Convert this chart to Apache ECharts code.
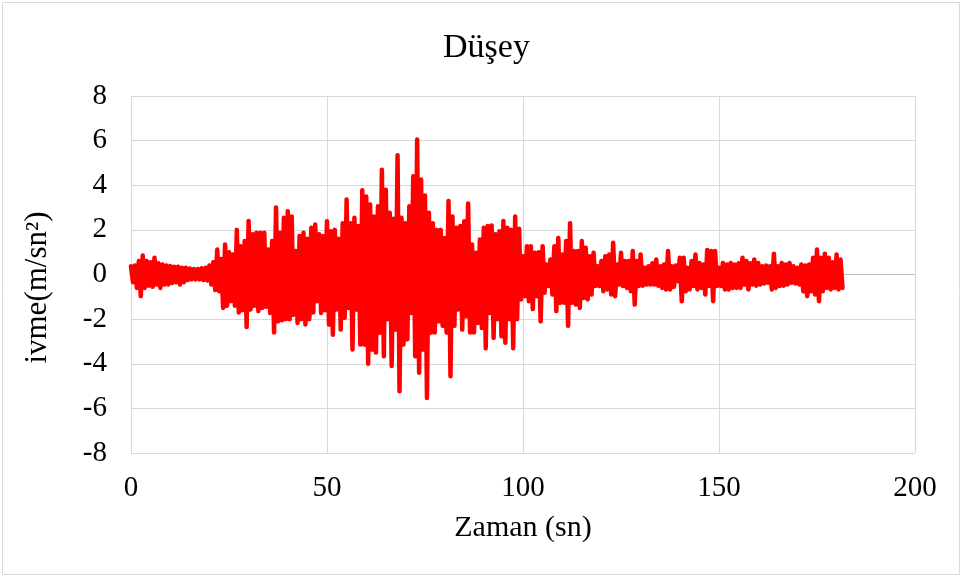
<!DOCTYPE html>
<html>
<head>
<meta charset="utf-8">
<script src="https://cdn.jsdelivr.net/npm/echarts@6/dist/echarts.min.js"></script>
<style>
html,body{margin:0;padding:0;background:#fff;}
#c{width:963px;height:578px;}
</style>
</head>
<body>
<div id="c"></div>
<script>
// Chart texts
var titleText = 'Düşey';
var xName = 'Zaman (sn)';
var yName = 'ivme(m/sn²)';
var xTicks = [0, 50, 100, 150, 200];
var yTicks = [-8, -6, -4, -2, 0, 2, 4, 6, 8];

// Sampling: positive peak at t = i s, negative peak at t = i + 0.5 s
var timeStep = 1;
var upperPeaks = [
0.37,0.4,0.6,0.85,0.6,0.55,0.75,0.5,0.45,0.4,
0.38,0.35,0.35,0.3,0.3,0.27,0.25,0.25,0.28,0.3,
0.4,0.55,1.12,0.7,1.35,1.0,0.9,2.0,1.27,1.5,
2.4,1.8,1.87,1.87,1.87,1.12,1.5,3.0,1.87,2.54,
2.84,2.6,1.05,1.72,1.87,1.6,2.1,2.24,1.8,1.72,
2.39,1.94,2.0,1.6,2.3,3.36,2.3,2.54,2.17,3.78,
3.5,3.14,2.6,3.06,4.7,3.8,2.77,2.5,5.34,2.54,
2.3,3.06,4.4,6.05,4.26,3.54,2.77,2.3,2.0,2.0,
1.64,3.29,2.6,2.1,2.17,2.39,3.18,1.35,0.97,1.57,
2.1,2.17,2.2,1.8,1.94,2.4,2.1,2.0,2.6,2.05,
0.82,1.27,1.27,0.97,1.0,1.27,0.45,0.67,1.27,1.64,
0.9,1.5,2.3,1.05,1.05,1.5,1.2,0.82,0.97,0.37,
0.6,0.82,0.9,1.42,0.45,0.97,0.6,0.6,1.05,0.6,
0.9,0.3,0.37,0.5,0.67,0.37,0.45,1.05,0.37,0.4,
0.75,0.75,0.3,0.6,0.9,0.52,0.45,1.1,1.05,1.05,
0.3,0.52,0.45,0.52,0.45,0.5,0.75,0.6,0.5,0.67,
0.52,0.37,0.4,0.37,0.93,0.37,0.52,0.45,0.52,0.37,
0.3,0.45,0.4,0.45,0.75,1.12,0.75,0.93,0.75,0.55,
0.9,0.67
];
var lowerPeaks = [
-0.35,-0.6,-0.97,-0.6,-0.5,-0.55,-0.45,-0.6,-0.45,-0.45,
-0.38,-0.35,-0.45,-0.35,-0.25,-0.22,-0.22,-0.22,-0.25,-0.27,
-0.45,-0.7,-0.75,-1.5,-1.4,-1.2,-1.4,-1.7,-1.6,-2.35,
-1.57,-1.4,-1.64,-1.5,-1.45,-1.72,-2.6,-2.1,-2.05,-2.0,
-2.0,-1.8,-2.17,-2.0,-2.24,-2.0,-1.7,-1.2,-1.72,-1.6,
-2.24,-2.7,-1.57,-2.47,-1.94,-1.5,-3.36,-1.57,-3.14,-3.14,
-4.0,-3.36,-3.5,-2.6,-3.66,-2.0,-4.1,-2.47,-5.23,-3.14,
-2.9,-1.72,-3.66,-4.4,-3.36,-5.53,-2.6,-2.6,-2.1,-2.3,
-2.6,-4.56,-2.3,-1.57,-2.47,-1.87,-2.6,-2.6,-2.17,-2.4,
-3.3,-1.72,-2.84,-2.0,-2.77,-3.06,-2.0,-3.3,-2.0,-1.12,
-0.97,-1.2,-1.55,-0.97,-2.1,-0.82,-0.52,-0.9,-1.64,-1.27,
-1.27,-2.3,-1.27,-1.35,-1.5,-1.05,-1.12,-0.9,-0.52,-0.52,
-0.75,-0.67,-0.9,-0.97,-0.45,-0.52,-0.6,-0.75,-1.35,-0.52,
-0.5,-0.45,-0.45,-0.45,-0.5,-0.6,-0.67,-0.67,-0.55,-0.3,
-1.2,-0.75,-0.67,-0.52,-0.67,-0.6,-0.9,-0.52,-1.2,-0.52,
-0.52,-0.67,-0.67,-0.6,-0.6,-0.6,-0.45,-0.67,-0.45,-0.5,
-0.45,-0.4,-0.37,-0.67,-0.6,-0.52,-0.5,-0.45,-0.37,-0.4,
-0.45,-0.75,-0.97,-0.75,-0.9,-1.2,-0.75,-0.6,-0.67,-0.6,
-0.67,-0.6
];

var seriesData = [];
for (var i = 0; i < upperPeaks.length; i++) {
  seriesData.push([i * timeStep, upperPeaks[i]]);
  if (i < lowerPeaks.length) seriesData.push([i * timeStep + timeStep / 2, lowerPeaks[i]]);
}

var font = '"Liberation Serif", "Times New Roman", serif';
var gridGray = '#D9D9D9';
var splitColors = yTicks.map(function (v) { return v === 0 ? '#BFBFBF' : gridGray; });

var chart = echarts.init(document.getElementById('c'), null, {renderer: 'canvas'});
chart.setOption({
  animation: false,
  backgroundColor: '#fff',
  title: {
    text: titleText,
    left: 438,
    top: 26,
    textStyle: {fontFamily: font, fontSize: 34, fontWeight: 'normal', color: '#000'}
  },
  grid: {left: 131, right: 48, top: 96, bottom: 125, containLabel: false},
  graphic: [{
    type: 'rect', silent: true, z: -10,
    shape: {x: 2.5, y: 2.5, width: 957, height: 572},
    style: {fill: 'none', stroke: '#D9D9D9', lineWidth: 1}
  }],
  xAxis: {
    type: 'value', min: xTicks[0], max: xTicks[xTicks.length - 1], interval: 50,
    name: xName, nameLocation: 'middle', nameGap: 60,
    nameTextStyle: {fontFamily: font, fontSize: 30, color: '#000'},
    axisLine: {show: false, onZero: false},
    axisTick: {show: false},
    axisLabel: {fontFamily: font, fontSize: 29, color: '#000', margin: 21},
    splitLine: {show: true, lineStyle: {color: gridGray, width: 1}}
  },
  yAxis: {
    type: 'value', min: yTicks[0], max: yTicks[yTicks.length - 1], interval: 2,
    name: yName, nameLocation: 'middle', nameGap: 78, nameRotate: 90,
    nameTextStyle: {fontFamily: font, fontSize: 31, color: '#000', padding: [0, 26, 0, 0]},
    axisLine: {show: false},
    axisTick: {show: false},
    axisLabel: {fontFamily: font, fontSize: 29, color: '#000', margin: 24},
    splitLine: {show: true, lineStyle: {color: splitColors, width: 1}}
  },
  series: [{
    type: 'line',
    data: seriesData,
    showSymbol: false,
    symbol: 'none',
    smooth: false,
    sampling: null,
    lineStyle: {color: '#FF0000', width: 4.5, cap: 'round', join: 'round'}
  }]
});
</script>
</body>
</html>
